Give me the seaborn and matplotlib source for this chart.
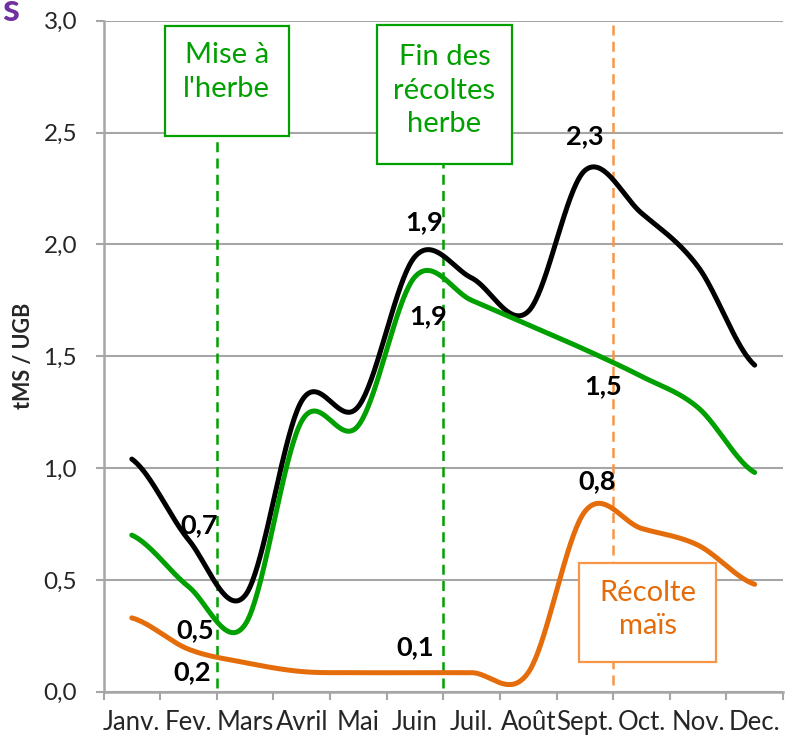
import numpy as np
import pandas as pd
import matplotlib
matplotlib.use("Agg")
import matplotlib.pyplot as plt
import seaborn as sns
from matplotlib.patches import Rectangle
from matplotlib.ticker import FixedLocator, FuncFormatter

# ---- data ----
months = ["Janv.", "Fev.", "Mars", "Avril", "Mai", "Juin", "Juil.", "Août",
          "Sept.", "Oct.", "Nov.", "Dec."]
total = [1.04, 0.68, 0.43, 1.30, 1.275, 1.945, 1.85, 1.70, 2.33, 2.14, 1.90, 1.46]
herbe = [0.70, 0.47, 0.30, 1.21, 1.19, 1.855, 1.75, 1.64, 1.53, 1.41, 1.27, 0.98]
mais = [0.33, 0.19, 0.13, 0.09, 0.085, 0.085, 0.085, 0.085, 0.805, 0.73, 0.655, 0.48]
yticks = [0.0, 0.5, 1.0, 1.5, 2.0, 2.5, 3.0]

# annotations: (text, x, y)
value_labels = [("0,7", 1.19, 0.746), ("0,5", 1.12, 0.276), ("0,2", 1.06, 0.088),
                ("1,9", 5.16, 2.10), ("1,9", 5.24, 1.68), ("0,1", 5.0, 0.20),
                ("2,3", 8.0, 2.484), ("1,5", 8.32, 1.365), ("0,8", 8.21, 0.943)]

BLACK = "#000000"
GREEN = "#00A000"
ORANGE = "#E46C0A"
ORANGE_LIGHT = "#F79646"
GRID = "#A6A6A6"


def smooth(values, n=40):
    """Excel-like smoothed line (Catmull-Rom / cubic Hermite) for display."""
    p = np.asarray(values, dtype=float)
    k = len(p)
    m = np.empty(k)
    m[0] = (p[1] - p[0]) / 2
    m[-1] = (p[-1] - p[-2]) / 2
    m[1:-1] = (p[2:] - p[:-2]) / 2
    xs, ys = [], []
    t = np.linspace(0, 1, n, endpoint=False)
    h00 = 2 * t**3 - 3 * t**2 + 1
    h10 = t**3 - 2 * t**2 + t
    h01 = -2 * t**3 + 3 * t**2
    h11 = t**3 - t**2
    for i in range(k - 1):
        xs.append(i + t)
        ys.append(h00 * p[i] + h10 * m[i] + h01 * p[i + 1] + h11 * m[i + 1])
    xs.append(np.array([k - 1.0]))
    ys.append(np.array([p[-1]]))
    return np.concatenate(xs), np.concatenate(ys)


sns.set_theme(style="white")
plt.rcParams["font.family"] = ["Lato", "DejaVu Sans"]

fig = plt.figure(figsize=(7.95, 7.4), dpi=100)
ax = fig.add_axes([0.1302, 0.0653, 0.8547, 0.9067])

for vals, col in [(total, BLACK), (herbe, GREEN), (mais, ORANGE)]:
    sx, sy = smooth(vals)
    df = pd.DataFrame({"x": sx, "y": sy})
    sns.lineplot(data=df, x="x", y="y", ax=ax, color=col, lw=3.6,
                 solid_capstyle="round", zorder=4, sort=False)

ax.set_xlim(-0.5, 11.5)
ax.set_ylim(0, 3.0)
ax.set_xlabel("")
ax.set_ylabel("tMS / UGB", fontsize=15.5, fontweight="bold", labelpad=7)

# y axis
ax.yaxis.set_major_locator(FixedLocator(yticks))
ax.yaxis.set_major_formatter(FuncFormatter(lambda v, _: f"{v:.1f}".replace(".", ",")))
ax.tick_params(axis="y", which="major", length=6, width=1.5, color=GRID,
               labelsize=17.5, pad=13, left=True)
ax.yaxis.grid(True, color=GRID, lw=1.5)
ax.xaxis.grid(False)

# x axis: labels at centres, tick marks at boundaries
ax.set_xticks(range(len(months)))
ax.set_xticklabels(months)
ax.set_xticks(np.arange(-0.5, 12, 1.0), minor=True)
ax.tick_params(axis="x", which="major", length=0, labelsize=18.5, pad=13)
ax.tick_params(axis="x", which="minor", length=6, width=1.5, color=GRID, bottom=True)

for s in ["top", "right"]:
    ax.spines[s].set_visible(False)
for s in ["left", "bottom"]:
    ax.spines[s].set_color(GRID)
    ax.spines[s].set_linewidth(1.8)
ax.spines["bottom"].set_zorder(5)

# vertical dashed lines
ax.plot([1.5, 1.5], [0.015, 2.484], color=GREEN, lw=1.8, ls=(0, (4, 2.5)), zorder=3)
ax.plot([5.5, 5.5], [0.015, 2.36], color=GREEN, lw=1.8, ls=(0, (4, 2.5)), zorder=3)
ax.plot([8.5, 8.5], [0.03, 3.0], color=ORANGE_LIGHT, lw=1.8, ls=(0, (4, 2.5)), zorder=3)

# text boxes: (x0, y0, w, h, edge, text colour, text, text top)
boxes = [
    (0.58, 2.484, 2.19, 0.494, GREEN, GREEN, "Mise à\nl'herbe", 2.905),
    (4.33, 2.36, 2.38, 0.622, GREEN, GREEN, "Fin des\nrécoltes\nherbe", 2.895),
    (7.90, 0.133, 2.42, 0.443, ORANGE_LIGHT, ORANGE, "Récolte\nmaïs", 0.50),
]
for x0, y0, w, h, ec, tc, txt, ytop in boxes:
    ax.add_patch(Rectangle((x0, y0), w, h, facecolor="white", edgecolor=ec,
                           lw=1.6, zorder=6))
    ax.text(x0 + w / 2, ytop, txt, ha="center", va="top", color=tc,
            fontsize=21, linespacing=1.36, zorder=7)

for txt, x, y in value_labels:
    ax.text(x, y, txt, ha="center", va="center", fontsize=19.5,
            fontweight="bold", color=BLACK, zorder=8)

# cropped title fragment at the top-left
fig.text(0.002, 0.971, "s", color="#7030A0", fontsize=28, fontweight="bold",
         ha="left", va="baseline")

fig.savefig("out.png", dpi=100, facecolor="white")
